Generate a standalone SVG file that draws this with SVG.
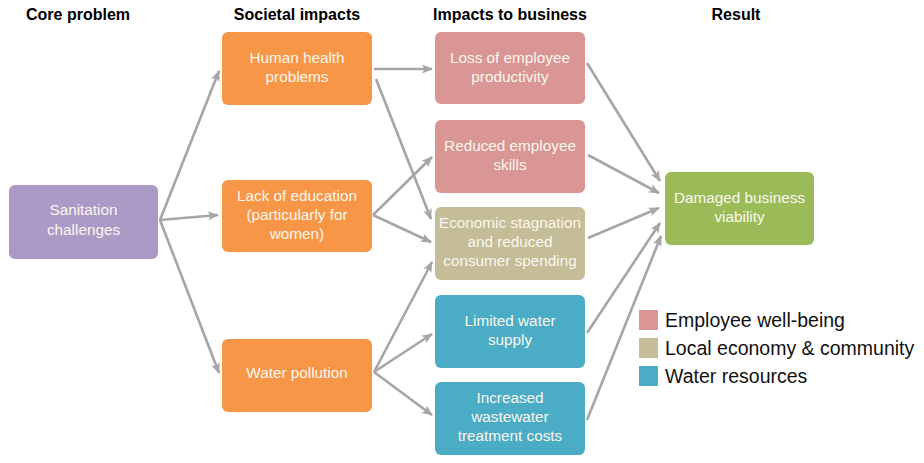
<svg xmlns="http://www.w3.org/2000/svg" width="924" height="463" viewBox="0 0 924 463">
<defs>
<style>
.hdr{font-family:"Liberation Sans",Arial,sans-serif;font-weight:bold;font-size:16px;fill:#000;text-anchor:middle}
.nt{font-family:"Liberation Sans",Arial,sans-serif;font-size:15.3px;fill:#fbf7ef;text-anchor:middle}
.lg{font-family:"Liberation Sans",Arial,sans-serif;font-size:19.5px;fill:#111}
.c{stroke:#a6a6a6;stroke-width:2.6;fill:none;marker-end:url(#ah)}
</style>
<marker id="ah" markerUnits="userSpaceOnUse" markerWidth="12" markerHeight="12" viewBox="0 0 12 12" refX="10" refY="6" orient="auto">
<path d="M0,1.5 L11,6 L0,10.5 L2.5,6 Z" fill="#a6a6a6"/>
</marker>
</defs>
<rect width="924" height="463" fill="#fff"/>
<g id="headers">
<text class="hdr" x="78" y="20">Core problem</text>
<text class="hdr" x="297" y="20">Societal impacts</text>
<text class="hdr" x="510" y="20">Impacts to business</text>
<text class="hdr" x="736" y="20">Result</text>
</g>
<g id="connectors">
<line class="c" x1="160" y1="220" x2="219" y2="71"/>
<line class="c" x1="160" y1="220" x2="218" y2="215"/>
<line class="c" x1="160" y1="220" x2="219" y2="373"/>
<line class="c" x1="374" y1="69" x2="432" y2="69"/>
<line class="c" x1="376" y1="79" x2="431" y2="219"/>
<line class="c" x1="373" y1="215" x2="432" y2="157"/>
<line class="c" x1="373" y1="215" x2="431" y2="242"/>
<line class="c" x1="374" y1="372" x2="432" y2="262"/>
<line class="c" x1="374" y1="372" x2="432" y2="334"/>
<line class="c" x1="374" y1="372" x2="432" y2="415"/>
<line class="c" x1="587" y1="63" x2="660" y2="181"/>
<line class="c" x1="588" y1="155" x2="659" y2="193"/>
<line class="c" x1="588" y1="238" x2="659" y2="208"/>
<line class="c" x1="587" y1="333" x2="660" y2="223"/>
<line class="c" x1="587" y1="420" x2="661" y2="236"/>
</g>
<g id="sanitation">
<rect x="9" y="185" width="149" height="74" rx="6" fill="#ab9ac6"/>
<text class="nt" x="83.5" y="215">Sanitation</text>
<text class="nt" x="83.5" y="235">challenges</text>
</g>
<g id="human-health">
<rect x="222" y="32" width="150" height="73" rx="6" fill="#f79646"/>
<text class="nt" x="297" y="63">Human health</text>
<text class="nt" x="297" y="82">problems</text>
</g>
<g id="lack-education">
<rect x="222" y="180" width="150" height="72" rx="6" fill="#f79646"/>
<text class="nt" x="297" y="201">Lack of education</text>
<text class="nt" x="297" y="220">(particularly for</text>
<text class="nt" x="297" y="239">women)</text>
</g>
<g id="water-pollution">
<rect x="222" y="339" width="150" height="73" rx="6" fill="#f79646"/>
<text class="nt" x="297" y="378">Water pollution</text>
</g>
<g id="loss-productivity">
<rect x="435" y="32" width="150" height="72" rx="6" fill="#d99694"/>
<text class="nt" x="510" y="63">Loss of employee</text>
<text class="nt" x="510" y="82">productivity</text>
</g>
<g id="reduced-skills">
<rect x="435" y="120" width="150" height="73" rx="6" fill="#d99694"/>
<text class="nt" x="510" y="151">Reduced employee</text>
<text class="nt" x="510" y="170">skills</text>
</g>
<g id="economic-stagnation">
<rect x="435" y="207" width="150" height="73" rx="6" fill="#c4bd97"/>
<text class="nt" x="510" y="228">Economic stagnation</text>
<text class="nt" x="510" y="247">and reduced</text>
<text class="nt" x="510" y="266">consumer spending</text>
</g>
<g id="limited-water">
<rect x="435" y="295" width="150" height="73" rx="6" fill="#4bacc6"/>
<text class="nt" x="510" y="326">Limited water</text>
<text class="nt" x="510" y="345">supply</text>
</g>
<g id="wastewater-costs">
<rect x="435" y="382" width="150" height="73" rx="6" fill="#4bacc6"/>
<text class="nt" x="510" y="403">Increased</text>
<text class="nt" x="510" y="422">wastewater</text>
<text class="nt" x="510" y="441">treatment costs</text>
</g>
<g id="damaged-viability">
<rect x="665" y="172" width="149" height="73" rx="6" fill="#9bbb59"/>
<text class="nt" x="739.5" y="203">Damaged business</text>
<text class="nt" x="739.5" y="222">viability</text>
</g>
<g id="legend">
<rect x="639" y="310" width="19" height="20" fill="#d99694"/>
<rect x="639" y="338" width="19" height="20" fill="#c4bd97"/>
<rect x="639" y="366" width="19" height="20" fill="#4bacc6"/>
<text class="lg" x="665" y="327">Employee well-being</text>
<text class="lg" x="665" y="355">Local economy &amp; community</text>
<text class="lg" x="665" y="383">Water resources</text>
</g>
</svg>
